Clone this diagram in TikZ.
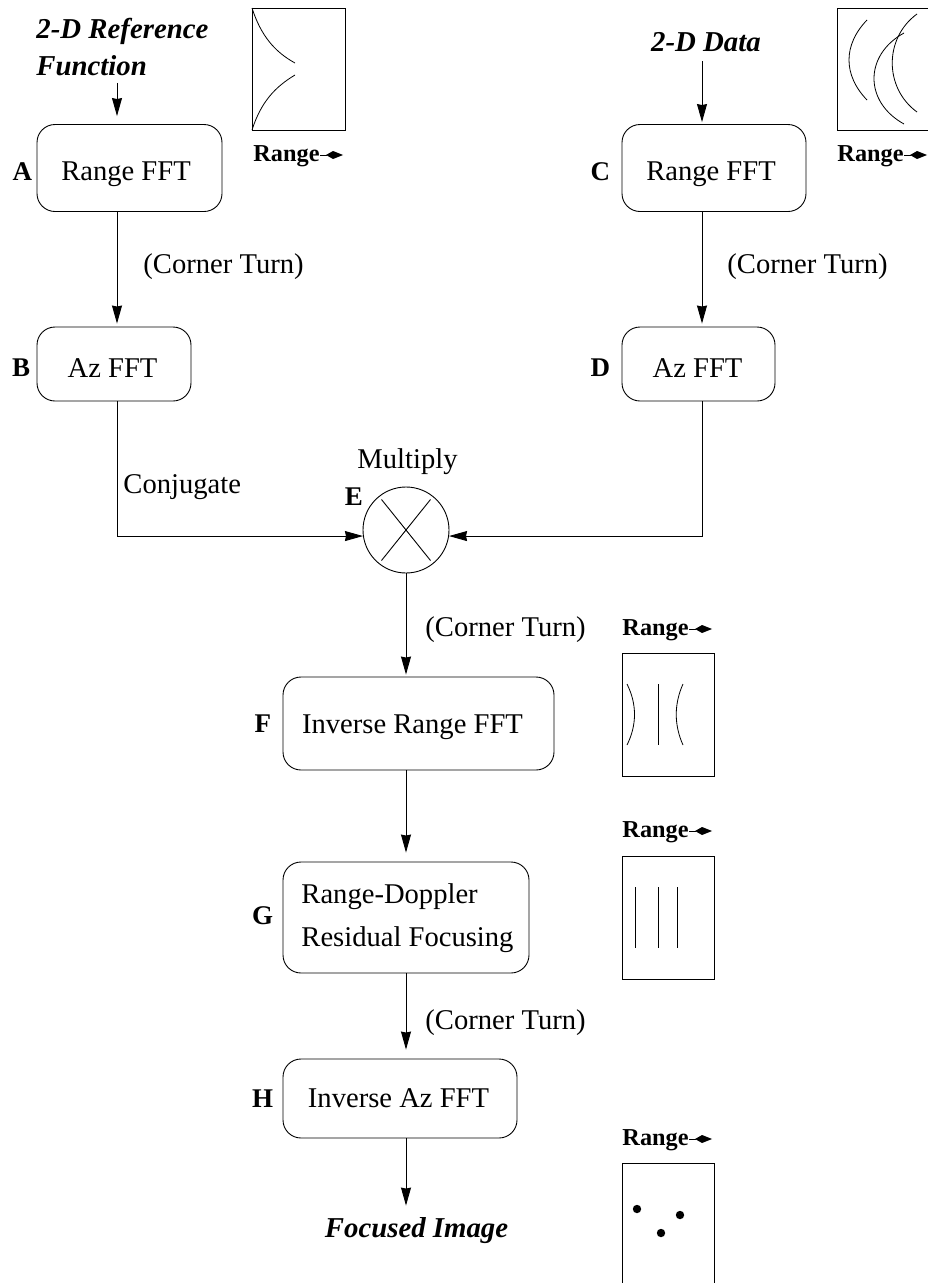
\documentclass[tikz,border=0pt]{standalone}
\usepackage{fontspec}
\setmainfont{Liberation Serif}
\usetikzlibrary{arrows.meta,positioning,calc}
\begin{document}
\begin{tikzpicture}[
      x=1pt,y=-1pt,
      line width=0.9pt,
      font=\fontsize{28.6}{43}\selectfont,
      box/.style={draw,rounded corners=18pt,align=center,minimum height=74pt,inner sep=0pt,text depth=0pt},
      letter/.style={font=\fontsize{27}{32}\selectfont\bfseries,inner sep=0pt},
      note/.style={inner sep=0pt,anchor=base west},
      title/.style={font=\fontsize{28.8}{37}\selectfont\bfseries\itshape,inner sep=0pt},
      arrow/.style={-{Stealth[length=18pt,width=10pt,inset=1pt]}},
      thumb/.style={line width=0.8pt},
      rangetext/.style={font=\fontsize{24.3}{28}\selectfont\bfseries,inner sep=0pt,anchor=base west}
    ]
      \clip (0,0) rectangle (928,1283);
      \useasboundingbox (0,0) rectangle (928,1283);
      % main boxes
      \node[box,minimum width=185pt,minimum height=87pt,text height=24pt] (rangea) at (129.5,168) {Range FFT\hspace*{7pt}};
      \node[box,minimum width=154pt,text height=26pt] (aza) at (114,364) {Az FFT\hspace*{3pt}};
      \node[box,minimum width=184pt,minimum height=87pt,text height=24pt] (rangec) at (714,168) {Range FFT\hspace*{6pt}};
      \node[box,minimum width=153pt,text height=26pt] (azc) at (698.5,364) {Az FFT\hspace*{2pt}};
      \node[draw,circle,minimum size=86pt,inner sep=0pt] (mult) at (406,530) {};
      \node[box,minimum width=271pt,minimum height=93pt,text height=19pt] (invrange) at (418.5,723.5) {Inverse Range FFT\hspace*{12pt}};
      \node[draw,rounded corners=18pt,align=left,inner sep=0pt,minimum width=246pt,minimum height=111pt,text height=65pt] (focus) at (406,917.5) {\hspace*{3pt}Range-Doppler\\\hspace*{3pt}Residual Focusing};
      \node[box,minimum width=234pt,minimum height=79pt,text height=17pt] (invaz) at (400,1098.5) {Inverse Az FFT\hspace*{3pt}};
      % letters
      \node[letter,left=4pt of rangea.west,yshift=-4pt] (la) {A};
      \node[letter,left=6pt of aza.west,yshift=-4pt] (lb) {B};
      \node[letter,left=11pt of rangec.west,yshift=-4pt] (lc) {C};
      \node[letter,left=11pt of azc.west,yshift=-4pt] (ld) {D};
      \node[letter] (le) at (354,497) {E};
      \node[letter,left=11pt of invrange.west,yshift=0pt] (lf) {F};
      \node[letter,left=9pt of focus.west,yshift=2pt] (lg) {G};
      \node[letter,left=9pt of invaz.west] (lh) {H};
      % inputs and output
      \node[title,align=left,anchor=west] (reffn) at (36,47.5) {2-D Reference\\Function};
      \node[title,anchor=base] (data) at (706,51) {2-D Data};
      \node[title,anchor=base] (image) at (416.5,1237) {Focused Image};
      % labels
      \node[note] (turna) at (143,273) {(Corner Turn)};
      \node[note] (turnc) at (727,273) {(Corner Turn)};
      \node[note] (conj) at (123,493) {Conjugate};
      \node[note] (mlabel) at (357,468) {Multiply};
      \node[note] (turne) at (425,636) {(Corner Turn)};
      \node[note] (turng) at (425,1029) {(Corner Turn)};
      % connectors
      \draw[arrow,shorten <=6pt,shorten >=8pt] ([xshift=3pt]aza.north |- reffn.south) -- ([xshift=3pt]aza.north |- rangea.north);
      \draw[arrow,shorten >=3pt] ([xshift=3pt]aza.north |- rangea.south) -- ([xshift=3pt]aza.north);
      \draw[arrow,shorten <=10pt,shorten >=2pt] ([xshift=3.5pt]azc.north |- data.base) -- ([xshift=3.5pt]azc.north |- rangec.north);
      \draw[arrow,shorten >=3pt] ([xshift=3.5pt]azc.north |- rangec.south) -- ([xshift=3.5pt]azc.north);
      \draw[arrow] ([xshift=3pt]aza.south) |- (mult.188);
      \draw[arrow] ([xshift=3.5pt]azc.south) |- (mult.352);
      \draw[arrow,shorten >=2pt] (mult.south) -- (mult.south |- invrange.north);
      \draw[arrow,shorten >=9pt] (mult.south |- invrange.south) -- (focus.north);
      \draw[arrow,shorten >=9pt] (focus.south) -- (focus.south |- invaz.north);
      \draw[arrow,shorten >=11pt] (focus.south |- invaz.south) -- (focus.south |- image.north);
      % range labels
      \foreach \n/\x/\y in {ra/253/161,rc/837/161,rf/622/635,rg/622/837,rh/622/1145}{
        \node[rangetext] (\n) at (\x,\y) {Range};
        \draw[thumb] ($(\n.base east)+(0,-6)$) -- ++(7,0);
        \fill ($(\n.base east)+(6,-6)$) -- ++(7,-4) -- ++(10,4) -- ++(-10,4) -- cycle;
      }
      % thumbnails
      \draw[thumb] (252,8) rectangle (345,130);
      \draw[thumb] (252,8) .. controls (261,36) and (275,52) .. (295,63);
      \draw[thumb] (252,130) .. controls (261,102) and (275,87) .. (295,75);
      \draw[thumb] (837,8) rectangle (940,130);
      \draw[thumb] (867,20) .. controls (843,45) and (843,75) .. (867,100);
      \draw[thumb] (904,33) .. controls (864,55) and (864,102) .. (904,124);
      \draw[thumb] (917,14) .. controls (884,38) and (884,88) .. (917,112);
      \draw[thumb] (622,653) rectangle (714,776);
      \draw[thumb] (627,684) .. controls (637,704) and (637,725) .. (627,745);
      \draw[thumb] (658,684) -- (658,745);
      \draw[thumb] (683,684) .. controls (674,704) and (674,725) .. (683,745);
      \draw[thumb] (622,856) rectangle (714,979);
      \foreach \x in {635,658,677}{
        \draw[thumb] (\x,887) -- (\x,948);
      }
      \draw[thumb] (622,1163) rectangle (714,1295);
      \foreach \x/\y in {637/1209,680/1215,661/1233}{
        \fill (\x,\y) circle (4.2pt);
      }
      % multiply cross
      \draw (mult.center) ++(-24.5,-30.5) -- ++(49,61);
      \draw (mult.center) ++(24.5,-30.5) -- ++(-49,61);
    \end{tikzpicture}
\end{document}
